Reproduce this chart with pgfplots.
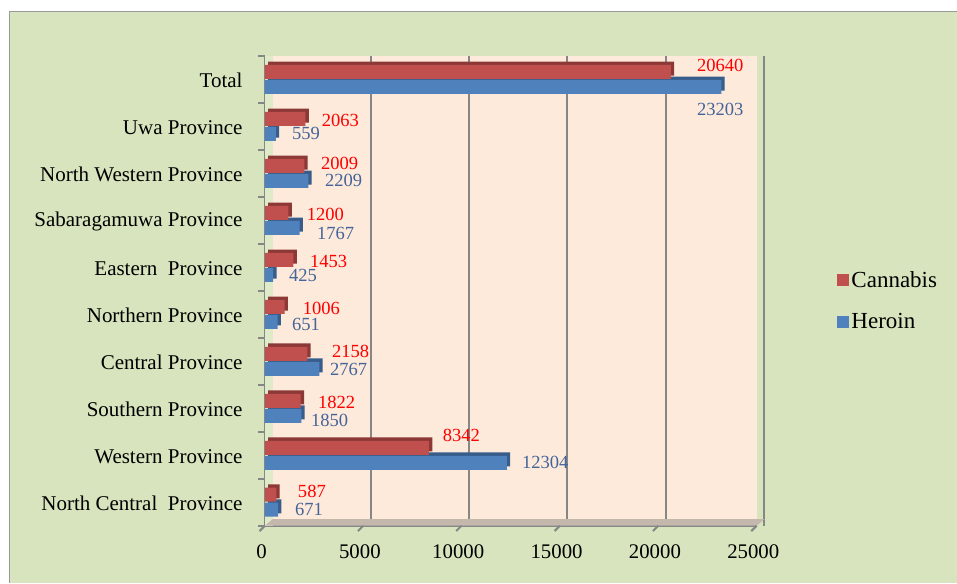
\documentclass[border=0pt]{standalone}
\usepackage{pgfplots}
\usepackage{pgfplotstable}
\pgfplotsset{compat=1.18}
\usetikzlibrary{calc}
\usepackage{fontspec}
\setmainfont{Liberation Serif}
\definecolor{bggreen}{RGB}{215,228,189}
\definecolor{wallgreen}{RGB}{222,234,200}
\definecolor{peach}{RGB}{253,234,218}
\definecolor{cann}{RGB}{192,80,77}
\definecolor{canndark}{RGB}{140,56,54}
\definecolor{her}{RGB}{79,129,189}
\definecolor{herdark}{RGB}{56,93,138}
\definecolor{herlab}{RGB}{68,100,154}
\definecolor{gridg}{RGB}{134,134,134}
\definecolor{floorc}{RGB}{196,184,172}
% value, category index, label x shift (pt), label y shift (pt)
\pgfplotstableread{
v c dx dy
587 0 16.0 2.6
8342 1 10.3 9.4
1822 2 12.8 -1.0
2158 3 18.4 1.6
1006 4 13.4 -1.2
1453 5 12.3 -1.1
1200 6 13.6 -1.0
2009 7 12.4 1.6
2063 8 12.1 -1.4
20640 9 19.5 4.8
}\cannabis
\pgfplotstableread{
v c dx dy
671 0 12.6 0
12304 1 11.2 0
1850 2 7.2 -3.8
2767 3 7.9 -0.2
651 4 10.6 -1.9
425 5 11.7 -0.7
1767 6 12.9 -4.0
2209 7 12.4 0
559 8 12.0 0
23203 9 -18.4 -17.2
}\heroin
\begin{document}
\begin{tikzpicture}
\fill[white] (0,0) rectangle (717.75pt,437.25pt);
\fill[bggreen] (7.5pt,0) rectangle (717.75pt,428.25pt);
\draw[gray!80, line width=0.75pt] (7.5pt,0) -- (7.5pt,428.25pt) -- (717.75pt,428.25pt);
\begin{axis}[
  at={(198.75pt,42.75pt)}, anchor=south west,
  scale only axis, width=369pt, height=352.5pt,
  xbar, bar width=10.5pt,
  xmin=0, xmax=25000, ymin=-0.5, ymax=9.5,
  axis lines*=left,
  axis line style={gridg, line width=1.5pt},
  axis background/.style={fill=peach},
  xmajorgrids, major grid style={gridg, line width=1.5pt, xshift=5.5pt},
  xtick={0,5000,...,25000},
  ytick={0,...,9},
  yticklabels={North Central~ Province, Western Province, Southern Province, Central Province, Northern Province, Eastern~ Province, Sabaragamuwa Province, North Western Province, Uwa Province, Total},
  tick style={draw=none},
  /pgf/number format/assume math mode=true,
  /pgf/number format/1000 sep={},
  scaled x ticks=false,
  xticklabel style={font=\rmfamily\fontsize{15.6}{18}\selectfont, yshift=-11pt, xshift=-2.5pt},
  yticklabel style={font=\rmfamily\fontsize{15.75}{18}\selectfont, xshift=-9pt, yshift=-1pt},
  point meta=x,
  clip=false,
  legend style={at={(1.1626,0.479)}, anchor=west, draw=none, fill=none, inner sep=0pt,
    font=\rmfamily\fontsize{17.25}{20}\selectfont, row sep=14pt, cells={anchor=west}},
  legend image code/.code={\fill[#1] (0pt,-4.5pt) rectangle (9pt,4.5pt);},
]
% left wall and floor
\fill[wallgreen] (axis cs:0,-0.5) rectangle ($(axis cs:0,9.5)+(6pt,0pt)$);
\fill[floorc] (axis cs:0,-0.5) -- (axis cs:25000,-0.5) -- ++(6pt,5pt) -- ($(axis cs:0,-0.5)+(6pt,5pt)$) -- cycle;
\pgfplotsinvokeforeach{-0.5,0.5,1.5,2.5,3.5,4.5,5.5,6.5,7.5,8.5,9.5}{
  \draw[gridg, line width=1.5pt] (axis cs:0,#1) -- ++(-5pt,0pt);
}
\pgfplotsinvokeforeach{0,5000,10000,15000,20000,25000}{
  \draw[gridg, line width=1.5pt] (axis cs:#1,-0.5) -- ++(-4pt,-4pt);
}
% 3D side faces
\addplot[fill=canndark, draw=none, bar shift=5.625pt, xshift=2.5pt, yshift=2.5pt, forget plot]
  table[x=v, y=c] {\cannabis};
\addplot[fill=herdark, draw=none, bar shift=-5.625pt, xshift=2.5pt, yshift=2.5pt, forget plot]
  table[x=v, y=c] {\heroin};
% main bars with value labels
\addplot[fill=cann, draw=none, bar shift=5.625pt, nodes near coords,
  visualization depends on={\thisrow{dx} \as \dx},
  visualization depends on={\thisrow{dy} \as \dy},
  every node near coord/.append style={anchor=west, inner sep=0pt, xshift=\dx pt, yshift=\dy pt,
    text=red, font=\rmfamily\fontsize{13.9}{16}\selectfont}]
  table[x=v, y=c] {\cannabis};
\addlegendentry{Cannabis}
\addplot[fill=her, draw=none, bar shift=-5.625pt, nodes near coords,
  visualization depends on={\thisrow{dx} \as \dx},
  visualization depends on={\thisrow{dy} \as \dy},
  every node near coord/.append style={anchor=west, inner sep=0pt, xshift=\dx pt, yshift=\dy pt,
    text=herlab, font=\rmfamily\fontsize{13.9}{16}\selectfont}]
  table[x=v, y=c] {\heroin};
\addlegendentry{Heroin}
\end{axis}
\end{tikzpicture}
\end{document}
